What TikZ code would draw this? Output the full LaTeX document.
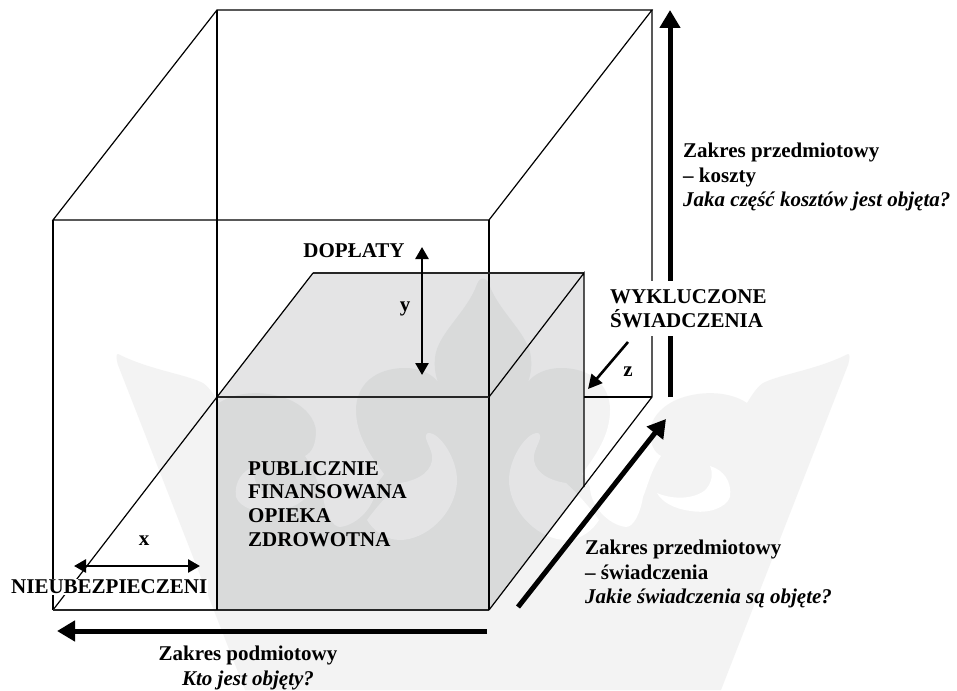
\documentclass[tikz,border=0pt]{standalone}
\usepackage{fontspec}
\setmainfont{Liberation Serif}
\usetikzlibrary{arrows.meta}
\definecolor{wm}{HTML}{F3F3F3}
\definecolor{facecol}{HTML}{000810}
\tikzset{
  edge/.style={draw=black,line width=1.2pt},
  faceline/.style={draw=black!85,line width=1.5pt},
  face/.style={fill=facecol,fill opacity=0.105},
  thick arrow/.style={line width=5pt,-{Triangle[length=18pt,width=20pt]}},
  thin arrow/.style={line width=2.6pt,{Triangle[length=12pt,width=13pt]}-{Triangle[length=12pt,width=13pt]}},
  z arrow/.style={line width=2.6pt,-{Triangle[length=14pt,width=14pt]}},
  lab/.style={font=\fontsize{21}{24.5}\selectfont\bfseries,align=left,inner sep=0pt,text=black},
}
\newcommand{\wmhalf}{%
  \fill[wm] (118,354) .. controls (150,370) and (185,374) .. (203,383)
    .. controls (210,388) and (214,395) .. (219,403)
    .. controls (235,392) and (262,390) .. (285,398)
    .. controls (305,405) and (316,420) .. (316,432)
    -- (356,432) -- (356,410)
    .. controls (356,385) and (375,368) .. (405,368)
    .. controls (420,368) and (432,374) .. (438,382)
    .. controls (434,372) and (434,360) .. (436,352)
    .. controls (442,330) and (468,310) .. (477,284)
    .. controls (480,277) and (484,278) .. (484,280)
    -- (484,690) -- (245,690) -- (118,365)
    .. controls (116,358) and (116,354) .. (118,354) -- cycle;
  \fill[white] (316,430) .. controls (316,445) and (312,452) .. (305,456)
    .. controls (315,470) and (318,485) .. (323,497)
    .. controls (326,515) and (333,527) .. (340,527)
    .. controls (358,525) and (376,505) .. (376,487)
    .. controls (378,480) and (382,478) .. (384,474)
    .. controls (370,455) and (356,435) .. (356,410)
    -- (345,400) -- (320,410) -- cycle;
  \fill[white] (428,433) .. controls (440,432) and (458,460) .. (457,482)
    .. controls (455,515) and (425,540) .. (400,540)
    .. controls (385,540) and (373,530) .. (367,520)
    .. controls (378,505) and (392,490) .. (400,483)
    .. controls (420,480) and (434,470) .. (432,455)
    .. controls (430,445) and (422,436) .. (428,433) -- cycle;
  \fill[white] (256,466) .. controls (242,470) and (234,482) .. (236,497)
    .. controls (240,508) and (258,514) .. (275,511)
    .. controls (292,509) and (304,502) .. (309,493)
    .. controls (295,499) and (275,500) .. (262,491)
    .. controls (255,485) and (252,475) .. (256,466) -- cycle;
}
\begin{document}
\begin{tikzpicture}[x=1pt,y=-1pt]
\useasboundingbox (0,0) rectangle (957,690);
\fill[white] (0,0) rectangle (957,690);
% watermark
\wmhalf
\begin{scope}[xshift=966pt,xscale=-1]
\wmhalf
\end{scope}
% corners
\coordinate (oftl) at (53,220);
\coordinate (oftr) at (489,220);
\coordinate (ofbl) at (53,610);
\coordinate (ofbr) at (489,610);
\coordinate (obtl) at (217,10);
\coordinate (obtr) at (652,10);
\coordinate (obbl) at (217,397);
\coordinate (obbr) at (652,397);
\coordinate (ibtl) at (313,273);
\coordinate (ibtr) at (584,273);
\coordinate (ibbr) at (584,487);
\coordinate (iftr) at (489,397);
% faces
\fill[face] (obbl) -- (ibtl) -- (ibtr) -- (ibbr) -- (ofbr) -- (ofbl -| obbl) -- cycle;
% outer box
\draw[edge] (oftl) -- (oftr) -- (obtr) -- (obtl) -- cycle;
\draw[edge] (obtl) -- (obbl);
\draw[edge] (obtr) -- (obbr) -- (ofbr);
\draw[edge] (oftl) -- (ofbl);
\draw[edge] (obbl) -- (ofbl);
\draw[edge] (ibbr |- obbr) -- (obbr);
% inner box
\draw[faceline] (ofbl) -- (ofbr);
\draw[edge] (oftr) -- (ofbr);
\draw[faceline] (obbl) -- (iftr);
\draw[edge] (obbl) -- (ofbl -| obbl);
\draw[faceline] (ibtl) -- (ibtr);
\draw[edge] (obbl) -- (ibtl);
\draw[edge] (iftr) -- (ibtr) -- (ibbr);
% thick arrows
\coordinate (aus) at (670,397);
\coordinate (aue) at (670,10);
\coordinate (als) at (487,631);
\coordinate (ale) at (57,631);
\coordinate (ads) at (518,607);
\coordinate (ade) at (666,419);
\draw[thick arrow] (aus) -- (aue);
\draw[thick arrow] (als) -- (ale);
\draw[thick arrow] (ads) -- (ade);
% small arrows
\coordinate (xa) at (74,566);
\coordinate (xb) at (200,566);
\coordinate (ya) at (422,247);
\coordinate (yb) at (422,375);
\coordinate (za) at (628,342);
\coordinate (zb) at (588,389);
\draw[thin arrow] (xa) -- (xb);
\draw[thin arrow] (ya) -- (yb);
\draw[z arrow] (za) -- (zb);
% labels
\node[lab,anchor=west,fill=white,inner ysep=1pt,inner xsep=1pt] (nieub) at (10,587) {NIEUBEZPIECZENI};
\node[fill=white,inner sep=0pt,minimum width=164pt,minimum height=55pt,anchor=north west] (wykbg) at (606,281) {};
\node[lab,anchor=north west] (wyk) at (610,289) {WYKLUCZONE\\ŚWIADCZENIA};
\node[lab,anchor=center] (dop) at (354,251) {DOPŁATY};
\node[lab,anchor=center] (ylab) at (405,309) {y};
\node[lab,anchor=center] (xlab) at (144,541) {x};
\node[lab,anchor=center] (zlab) at (628,372) {z};
\node[lab,anchor=north west] (pub) at (248,461) {PUBLICZNIE\\[-0.8pt]FINANSOWANA\\[-0.8pt]OPIEKA\\[-0.8pt]ZDROWOTNA};
\node[lab,anchor=north west] (koszty) at (683,143) {Zakres przedmiotowy\\– koszty\\\textit{Jaka część kosztów jest objęta?}};
\node[lab,anchor=north west] (swiad) at (585,540) {Zakres przedmiotowy\\– świadczenia\\\textit{Jakie świadczenia są objęte?}};
\node[lab,align=center,anchor=north] (podm) at (248,646) {Zakres podmiotowy\\\textit{Kto jest objęty?}};
\end{tikzpicture}
\end{document}
